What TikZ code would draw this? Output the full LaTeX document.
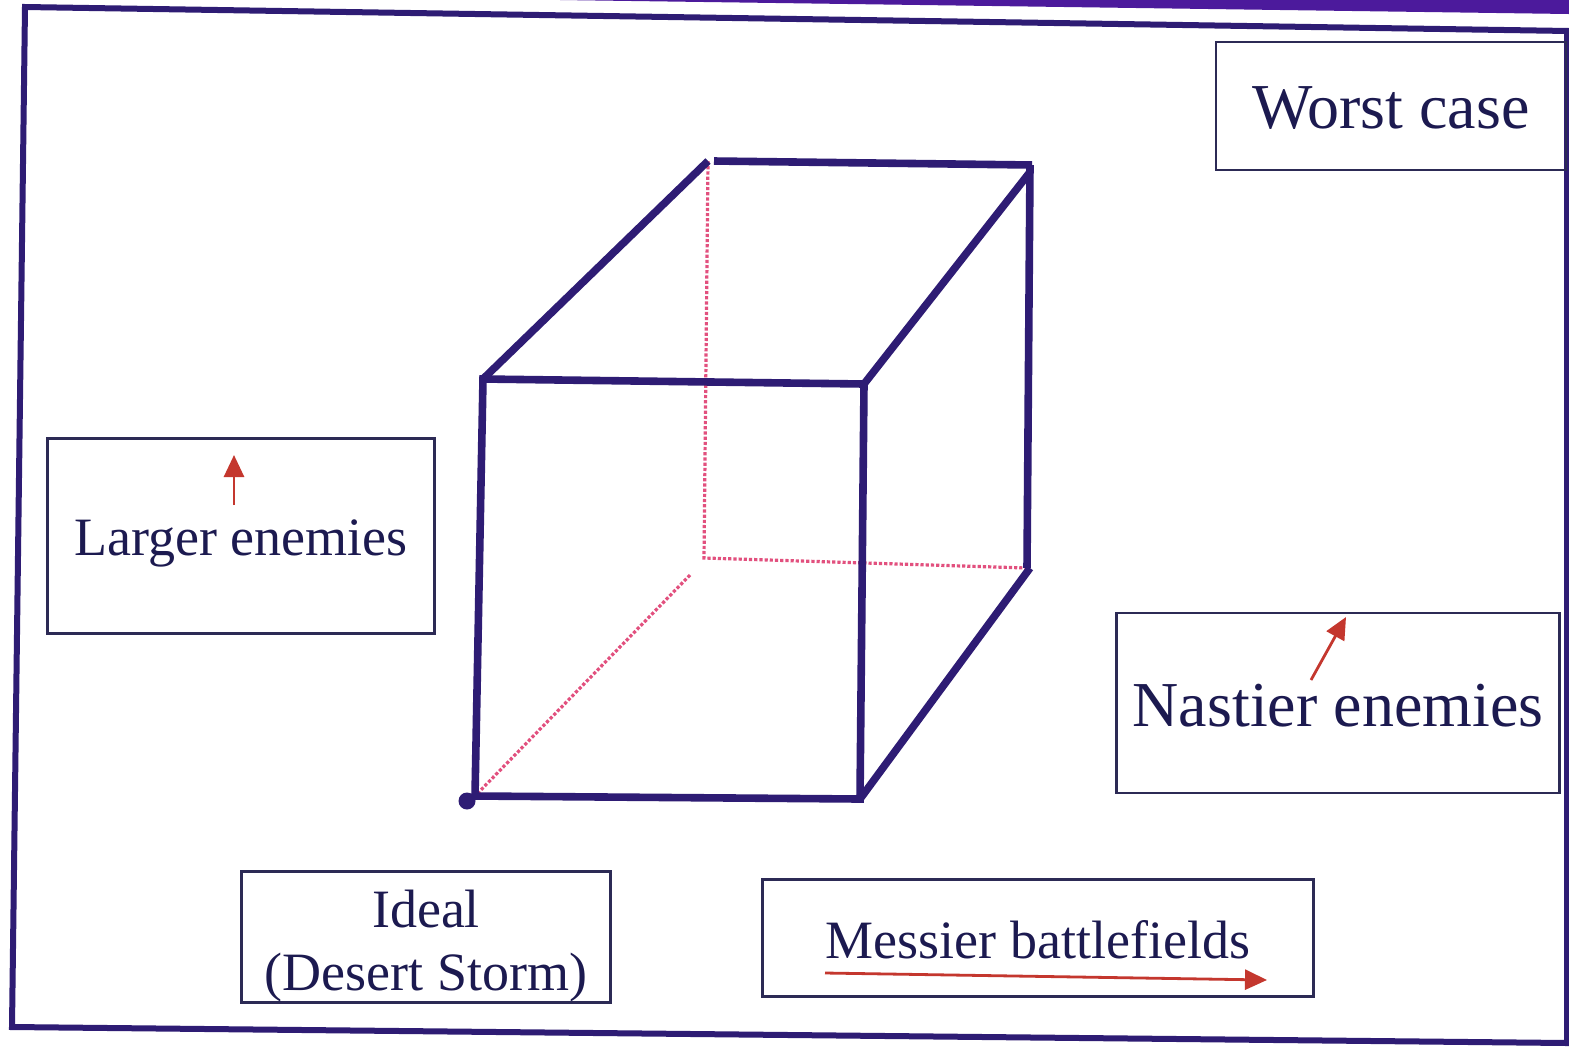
\documentclass[tikz,border=0pt]{standalone}
\usepackage{fontspec}
\setmainfont{Liberation Serif}
\usetikzlibrary{arrows.meta}
\definecolor{navy}{HTML}{2E1C74}
\definecolor{band}{HTML}{4C1A9C}
\definecolor{boxline}{HTML}{2C2A55}
\definecolor{txt}{HTML}{1C1A50}
\definecolor{redarr}{HTML}{C4372E}
\definecolor{pinkdot}{HTML}{E2507E}
\newcommand{\lowerby}[2]{\raisebox{-#1}[\height][\depth]{#2}}
\tikzset{
  frameline/.style={draw=navy, line width=3pt, line join=miter},
  cubeedge/.style={draw=navy, line width=3.8pt, line cap=butt},
  hidden/.style={draw=pinkdot, line width=1.6pt, densely dotted},
  labelbox/.style={draw=boxline, line width=1.2pt, rectangle, inner sep=0pt, text=txt, align=center},
  redarrow/.style={draw=redarr, line width=1.4pt, -{Triangle[length=11pt, width=10pt]}, redarr},
}
\begin{document}
\begin{tikzpicture}[x=0.5pt, y=-0.5pt]
\useasboundingbox (0,0) rectangle (1569,1046);
\fill[white] (0,0) rectangle (1569,1046);
% purple band at top
\fill[band] (560,0) -- (1569,0) -- (1569,14) -- cycle;
% slide frame
\draw[frameline] (1569,31) -- (25,7) -- (12,1027) -- (1567,1043) -- (1567,31);

% cube corners
\coordinate (ftl) at (483,379);
\coordinate (ftr) at (864,384);
\coordinate (fbr) at (860,799);
\coordinate (fbl) at (475,796);
\coordinate (btl) at (708,161);
\coordinate (btr) at (1032,165);
\coordinate (bbr) at (1027,568);
\coordinate (bbl) at (704,558);
\coordinate (hstart) at (690,575);

% hidden edges
\draw[hidden] (btl) -- (bbl) -- (bbr);
\draw[hidden] (hstart) -- (fbl);

% visible edges
\draw[cubeedge, line join=miter] (ftl) -- (ftr) -- (fbr) -- (fbl) -- cycle;
\draw[cubeedge] (ftl) -- (btl);
\draw[cubeedge] (714,161) -- (btr);
\draw[cubeedge] (ftr) -- (1030,172);
\draw[cubeedge] (1030,165) -- (bbr);
\draw[cubeedge] (fbr) -- (1030,568);
\node[circle, fill=navy, inner sep=0pt, minimum size=8.5pt] (ideal pt) at (467,801) {};

% label boxes
\node[labelbox, minimum width=175pt, minimum height=64pt, font=\fontsize{32}{38}\selectfont] (worst) at (1391,106) {\lowerby{1pt}{Worst case}};
\node[labelbox, minimum width=193.5pt, minimum height=97.5pt, font=\fontsize{27}{32}\selectfont] (larger) at (241,536) {\lowerby{3.5pt}{Larger enemies}};
\node[labelbox, minimum width=221.5pt, minimum height=90pt, font=\fontsize{32}{38}\selectfont] (nastier) at (1338,703) {\lowerby{1.5pt}{Nastier enemies}};
\node[labelbox, minimum width=184.5pt, minimum height=65.5pt, font=\fontsize{27}{31.5}\selectfont] (ideal) at (426,937) {\lowerby{4.5pt}{\begin{tabular}{@{}c@{}}Ideal\\(Desert Storm)\end{tabular}}};
\node[labelbox, minimum width=275.5pt, minimum height=58.5pt, font=\fontsize{27}{32}\selectfont] (messier) at (1038,938) {\lowerby{1pt}{Messier battlefields}};

% red direction arrows
\coordinate (la1) at (234,505);
\coordinate (la2) at (234,455);
\draw[redarrow] (la1) -- (la2);
\coordinate (na1) at (1311,680);
\coordinate (na2) at (1346,617);
\draw[redarrow] (na1) -- (na2);
\coordinate (ma1) at (825,973);
\coordinate (ma2) at (1267,980);
\draw[redarrow] (ma1) -- (ma2);
\end{tikzpicture}
\end{document}
